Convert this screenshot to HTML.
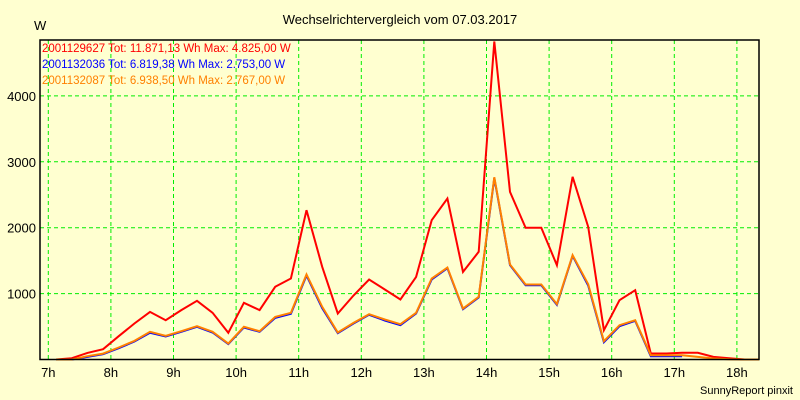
<!DOCTYPE html>
<html><head><meta charset="utf-8"><style>
body{margin:0;background:#ffffd0;}
svg{display:block;font-family:"Liberation Sans",sans-serif;}
</style></head><body>
<svg id="chart" width="800" height="400" viewBox="0 0 800 400">
<rect x="0" y="0" width="800" height="400" fill="#ffffd0"/>
<text x="400" y="24" text-anchor="middle" font-size="13" fill="#000">Wechselrichtervergleich vom 07.03.2017</text>
<text x="34" y="30" font-size="13" fill="#000">W</text>
<g id="grid"></g>
<g id="series"></g>
<rect x="40" y="40" width="719" height="319.5" fill="none" stroke="#000" stroke-width="1.5"/>
<g id="legend" font-size="11.5">
<text x="42" y="52" fill="#ff0000">2001129627 Tot: 11.871,13 Wh Max: 4.825,00 W</text>
<text x="42" y="68" fill="#0000ff">2001132036 Tot: 6.819,38 Wh Max: 2.753,00 W</text>
<text x="42" y="84" fill="#ff8000">2001132087 Tot: 6.938,50 Wh Max: 2.767,00 W</text>
</g>
<text x="793" y="394" text-anchor="end" font-size="11" fill="#000">SunnyReport pinxit</text>
</svg>
<script>
const xTicks=[7,8,9,10,11,12,13,14,15,16,17,18];
const xTickLabels=["7h","8h","9h","10h","11h","12h","13h","14h","15h","16h","17h","18h"];
const yTicks=[1000,2000,3000,4000];
const yTickLabels=["1000","2000","3000","4000"];
const startHour=7.125;
const stepHours=0.25;
const red=[0,20,100,157,354,546,723,597,750,890,708,405,860,750,1103,1229,2266,1406,698,971,1214,1062,910,1254,2114,2443,1330,1634,4825,2544,1998,2000,1431,2772,2013,445,900,1052,91,91,101,101,40,20,0,0];
const orange=[0,0,50,90,182,283,420,359,430,506,420,243,496,430,647,708,1290,800,410,556,688,607,536,708,1229,1396,774,951,2767,1442,1138,1138,840,1583,1143,278,521,597,66,66,66,40,15,5,0,0];
const blue=[0,0,40,80,172,273,405,349,420,496,410,233,486,420,632,693,1275,780,400,546,678,592,521,698,1214,1386,764,941,2753,1432,1128,1128,830,1573,1123,263,506,587,50,50,50,null,null,null,null,null];
const X0=48.3,PXH=62.6,Y0=359.5,PXW=0.0659;
function xs(h){return X0+(h-7)*PXH;}
function ys(v){return Y0-v*PXW;}
const NS="http://www.w3.org/2000/svg";
const grid=document.getElementById('grid');
const svg=document.getElementById('chart');
xTicks.forEach((t,i)=>{
 const l=document.createElementNS(NS,'line');
 l.setAttribute('x1',xs(t));l.setAttribute('x2',xs(t));l.setAttribute('y1',40);l.setAttribute('y2',359);
 l.setAttribute('stroke','#00ee00');l.setAttribute('stroke-dasharray','4,3');
 
 
 grid.appendChild(l);
 const tx=document.createElementNS(NS,'text');
 tx.setAttribute('x',xs(t));tx.setAttribute('y',377);tx.setAttribute('text-anchor','middle');tx.setAttribute('font-size','13');
 tx.textContent=xTickLabels[i];
 
 
 svg.appendChild(tx);
});
yTicks.forEach((t,i)=>{
 const l=document.createElementNS(NS,'line');
 l.setAttribute('x1',40);l.setAttribute('x2',759);l.setAttribute('y1',ys(t));l.setAttribute('y2',ys(t));
 l.setAttribute('stroke','#00ee00');l.setAttribute('stroke-dasharray','4,3');
 
 
 grid.appendChild(l);
 const tx=document.createElementNS(NS,'text');
 tx.setAttribute('x',36);tx.setAttribute('y',ys(t)+5);tx.setAttribute('text-anchor','end');tx.setAttribute('font-size','13');
 tx.textContent=yTickLabels[i];
 
 
 svg.appendChild(tx);
});
const ser=document.getElementById('series');
[[red,'#ff0000','series-2001129627'],[blue,'#0000ff','series-2001132036'],[orange,'#ff8000','series-2001132087']].forEach(([arr,col,name])=>{
 const pts=[];
 arr.forEach((v,i)=>{if(v!==null){const x=Math.max(40,Math.min(759,xs(startHour+i*stepHours)));pts.push(x.toFixed(1)+','+ys(v).toFixed(1));}});
 const p=document.createElementNS(NS,'polyline');
 p.setAttribute('points',pts.join(' '));
 p.setAttribute('fill','none');p.setAttribute('stroke',col);p.setAttribute('stroke-width','2');
 
 
 ser.appendChild(p);
});
</script>
</body></html>
